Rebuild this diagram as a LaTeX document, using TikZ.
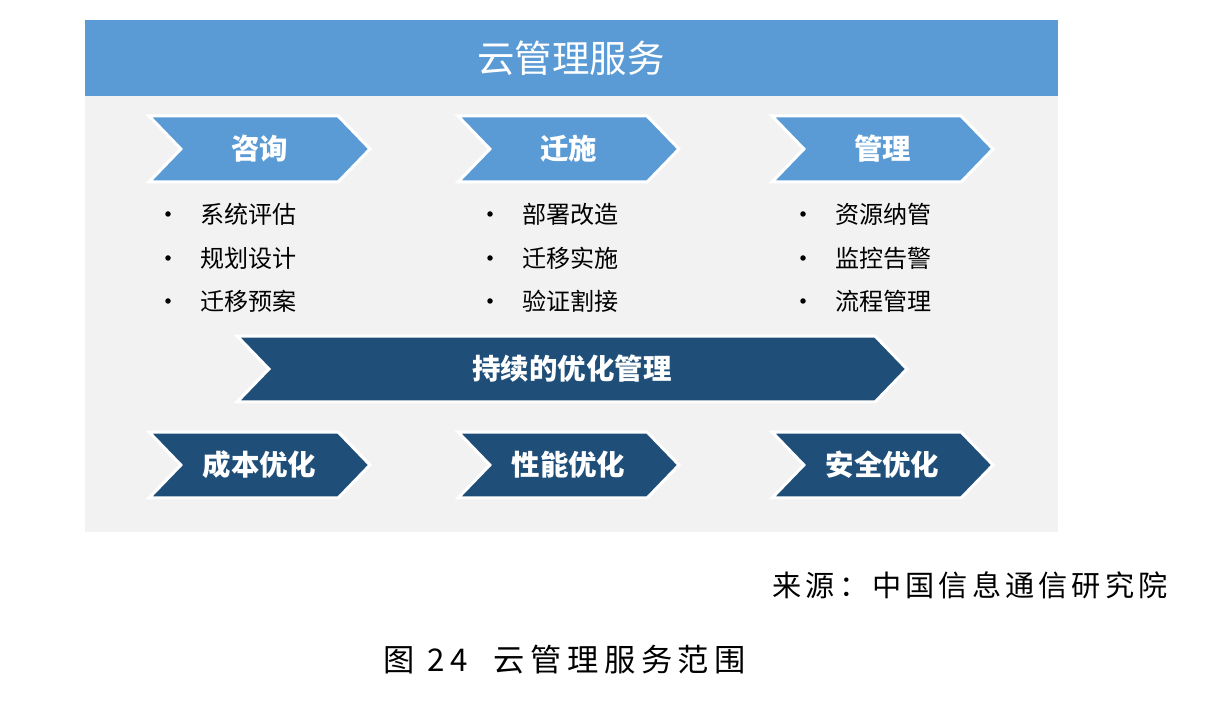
\documentclass[tikz,border=0pt]{standalone}
\usepackage{fontspec}
\setmainfont{Noto Sans CJK SC}
\newfontfamily\capfont[LetterSpace=14]{Noto Sans CJK SC}
\newfontfamily\figfont[LetterSpace=18]{Noto Sans CJK SC}
\usetikzlibrary{shapes.symbols,positioning}
\definecolor{hdrblue}{HTML}{5B9BD5}
\definecolor{deepblue}{HTML}{1F4E79}
\definecolor{panelgray}{HTML}{F2F2F2}

\begin{document}
\begin{tikzpicture}[
  x=0.02cm, y=-0.02cm,
  chev/.style    = {signal, signal from=west, signal to=east, signal pointer angle=92,
                    draw=white, line width=0.06cm, minimum height=1.32cm,
                    minimum width=4.42cm, inner sep=0pt, text=white,
                    font=\fontsize{16.2}{18}\selectfont\bfseries},
  light/.style   = {chev, fill=hdrblue},
  dark/.style    = {chev, fill=deepblue},
  item/.style    = {anchor=west, inner sep=0pt, font=\fontsize{13.7}{16}\selectfont},
  dot/.style     = {circle, fill=black, inner sep=0pt, minimum size=0.11cm},
]
  \useasboundingbox (0,0) rectangle (1207,715);
  \fill[panelgray] (85,20) rectangle (1058,532);
  \fill[hdrblue] (85,20) rectangle (1058,96);
  \node[text=white, font=\fontsize{21.3}{24}\selectfont] (title) at (571,58) {云管理服务};

  % first row of steps
  \node[light] (consult) at (259.5,149) {咨询};
  \node[light] (migrate) at (568.5,149) {迁施};
  \node[light] (manage)  at (882.5,149) {管理};

  % items below each step
  \foreach \col/\x/\a/\b/\c in {c1/168/系统评估/规划设计/迁移预案,
                                 c2/490/部署改造/迁移实施/验证割接,
                                 c3/803/资源纳管/监控告警/流程管理} {
    \foreach \row/\y/\txt in {1/214/\a, 2/258/\b, 3/301/\c} {
      \node[dot] (\col d\row) at (\x,\y) {};
      \node[item] (\col t\row) at (\x+32,\y) {\txt};
    }
  }

  \node[dark, minimum width=13.4cm] (optim) at (572,369) {持续的优化管理};

  % optimisation targets
  \node[dark] (cost) at (259.5,465) {成本优化};
  \node[dark] (perf) at (568.5,465) {性能优化};
  \node[dark] (safe) at (882.5,465) {安全优化};

  \node[anchor=east, inner sep=0pt, font=\fontsize{16.6}{18}\selectfont\capfont] (source) at (1168,585) {来源：中国信息通信研究院};
  \node[inner sep=0pt, font=\fontsize{17.8}{20}\selectfont\figfont] (caption) at (565,660) {图 24\ \ 云管理服务范围};
\end{tikzpicture}
\end{document}
